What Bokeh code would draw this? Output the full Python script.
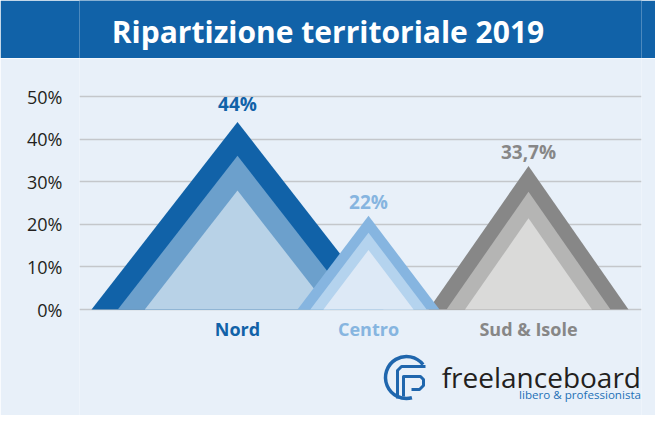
from bokeh.plotting import figure
from bokeh.layouts import column
from bokeh.models import Range1d, FixedTicker, PrintfTickFormatter
from bokeh.core.properties import value
from bokeh.embed import file_html
from bokeh.resources import INLINE
import math

# ---------------- data ----------------
title_text = "Ripartizione territoriale 2019"
categories = ["Nord", "Centro", "Sud & Isole"]
values = [44.0, 22.0, 33.7]
value_labels = ["44%", "22%", "33,7%"]
y_ticks = [0, 10, 20, 30, 40, 50]
brand_name = "freelanceboard"
brand_tagline = "libero & professionista"

# ---------------- layout / style ----------------
W, H = 655, 415
TITLE_H = 58
FONT = "Open Sans"
BG = "#e8f0f9"
BAR = "#1162a8"
LEFT, RIGHT = 79, 14
FRAME_W = W - LEFT - RIGHT
centers = [158, 289, 449]          # x position of each peak (frame px units)
half_widths = [146, 71, 100]       # half base width of the outer triangle
layer_scales = [1.0, 0.82, 0.635]
label_offsets = [-18, -14, -14]    # px above the peak (text middle)
cat_offset = 19                    # px below the 0% line (text middle)
colors = [
    ["#1162a8", "#6ca0cc", "#b8d2e7"],
    ["#86b5e0", "#b4d3ee", "#dde9f6"],
    ["#878787", "#b5b5b4", "#dadad9"],
]
text_colors = ["#1162a8", "#86b5e0", "#878787"]
draw_order = [0, 2, 1]

# ---------------- title bar ----------------
p1 = figure(width=W, height=TITLE_H, output_backend="svg", toolbar_location=None,
            x_range=Range1d(0, FRAME_W), y_range=Range1d(0, TITLE_H),
            x_axis_type=None, y_axis_type=None,
            min_border_left=LEFT, min_border_right=RIGHT,
            min_border_top=0, min_border_bottom=0)
p1.background_fill_color = BAR
p1.border_fill_color = BAR
p1.outline_line_color = None
p1.grid.visible = False
p1.text(x=[327.5 - LEFT], y=[TITLE_H - 30.5], text=[title_text], text_align="center",
        text_baseline="middle", text_color="white",
        text_font=value(FONT), text_font_style="bold", text_font_size="30px")

# ---------------- chart ----------------
PX_PER = 4.26                  # px per percentage point
Y0 = 309                       # screen y of 0%
H2 = H - TITLE_H
y_top = (Y0 - TITLE_H) / PX_PER
y_bot = -(H - Y0) / PX_PER
p2 = figure(width=W, height=H2, output_backend="svg", toolbar_location=None,
            x_range=Range1d(0, FRAME_W), y_range=Range1d(y_bot, y_top),
            x_axis_type=None, y_axis_location="left",
            min_border_left=LEFT, min_border_right=RIGHT,
            min_border_top=0, min_border_bottom=0)
p2.background_fill_color = BG
p2.border_fill_color = BG
p2.outline_line_color = None

ax = p2.yaxis[0]
ax.ticker = FixedTicker(ticks=y_ticks)
ax.formatter = PrintfTickFormatter(format="%d%%")
ax.axis_line_color = None
ax.major_tick_line_color = None
ax.minor_tick_line_color = None
ax.major_label_standoff = 11
ax.major_label_text_font = FONT
ax.major_label_text_font_size = "18px"
ax.major_label_text_color = "#231f20"
p2.xgrid.visible = False
p2.ygrid.grid_line_color = "#c4c7cb"
p2.ygrid.grid_line_width = 1.3

for i in draw_order:
    c, hw, v = centers[i], half_widths[i], values[i]
    xs, ys = [], []
    for s in layer_scales:
        xs.append([c - hw * s, c, c + hw * s])
        ys.append([0, v * s, 0])
    p2.patches(xs=xs, ys=ys, fill_color=colors[i], line_color=None)

for i in range(len(categories)):
    p2.text(x=[centers[i]], y=[values[i]], text=[value_labels[i]],
            y_offset=label_offsets[i], text_align="center", text_baseline="middle",
            text_color=text_colors[i], text_font=value(FONT), text_font_style="bold",
            text_font_size="19px")
    p2.text(x=[centers[i]], y=[0], text=[categories[i]], y_offset=cat_offset,
            text_align="center", text_baseline="middle",
            text_color=text_colors[i], text_font=value(FONT), text_font_style="bold",
            text_font_size="18px")

# ---------------- logo ----------------
def sx(px):
    return px - LEFT

def sy(py):
    return (Y0 - py) / PX_PER

LOGO = "#1f66ad"
cx, cy = 406, 377
p2.arc(x=[sx(cx)], y=[sy(cy)], radius=21, radius_units="screen",
       start_angle=math.radians(38), end_angle=math.radians(285),
       line_color=LOGO, line_width=3.5)
pathA = [(cx - 9, cy + 21), (cx - 9, cy - 7), (cx - 5, cy - 11), (cx + 19, cy - 11)]
pathB = [(cx - 3, cy + 19), (cx - 3, cy - 1), (cx + 14, cy - 1), (cx + 17, cy + 2),
         (cx + 17, cy + 8), (cx + 13, cy + 12), (cx + 5, cy + 12)]
p2.multi_line(xs=[[sx(a) for a, b in pathA], [sx(a) for a, b in pathB]],
              ys=[[sy(b) for a, b in pathA], [sy(b) for a, b in pathB]],
              line_color=LOGO, line_width=3, line_join="round")
p2.text(x=[sx(640.5)], y=[sy(376)], text=[brand_name], text_align="right",
        text_baseline="middle", text_color="#231f20", text_font=value(FONT),
        text_font_size="28px")
p2.text(x=[sx(640.5)], y=[sy(394)], text=[brand_tagline], text_align="right",
        text_baseline="middle", text_color="#2470b7", text_font=value(FONT),
        text_font_size="11.6px")

layout = column(p1, p2, spacing=0)
open("out.html", "w").write(file_html(layout, INLINE))
